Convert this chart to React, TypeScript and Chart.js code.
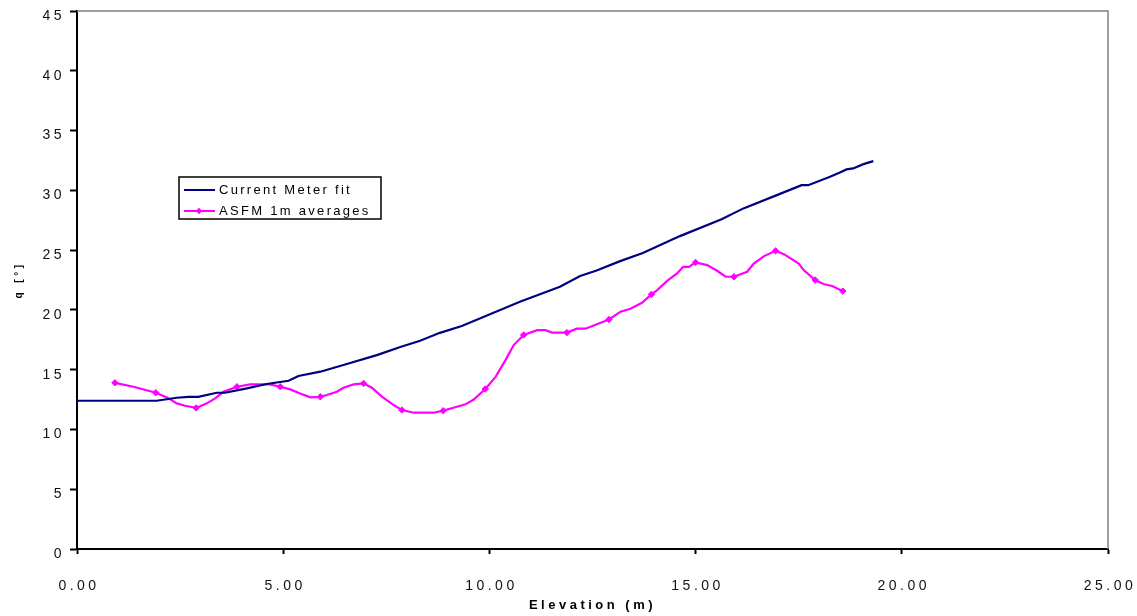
import React, { useEffect, useRef } from 'react';
import { Chart, registerables } from 'chart.js';

Chart.register(...registerables);

// Current Meter fit (elevation m, angle deg)
const cmX = [0, 1.93, 2.42, 2.7, 2.94, 3.39, 3.59, 4.12, 4.6, 5.13, 5.37, 5.9, 6.46, 7.27, 7.84, 8.32, 8.8, 9.33, 10.74, 11.71, 12.2, 12.6, 13.17, 13.72, 14.62, 15.63, 16.16, 16.97, 17.57, 17.73, 18.26, 18.5, 18.66, 18.82, 19.07, 19.31];
const cmY = [12.4, 12.4, 12.65, 12.73, 12.73, 13.07, 13.07, 13.43, 13.8, 14.07, 14.47, 14.83, 15.39, 16.22, 16.9, 17.42, 18.08, 18.65, 20.68, 21.93, 22.83, 23.3, 24.08, 24.75, 26.17, 27.59, 28.49, 29.6, 30.43, 30.43, 31.13, 31.5, 31.75, 31.83, 32.19, 32.44];

// ASFM profile (dense)
const asfmX = [0.92, 1.37, 1.91, 2.18, 2.42, 2.62, 2.89, 3.15, 3.35, 3.55, 3.88, 4.2, 4.68, 4.93, 5.17, 5.41, 5.66, 5.9, 6.06, 6.3, 6.46, 6.71, 6.95, 7.15, 7.4, 7.68, 7.88, 8.16, 8.65, 8.88, 9.13, 9.42, 9.62, 9.9, 10.15, 10.39, 10.59, 10.83, 11.16, 11.36, 11.52, 11.88, 12.12, 12.33, 12.9, 13.18, 13.42, 13.7, 13.93, 14.07, 14.31, 14.55, 14.7, 14.84, 15.0, 15.28, 15.52, 15.73, 15.93, 16.25, 16.41, 16.66, 16.94, 17.14, 17.5, 17.62, 17.9, 18.1, 18.31, 18.57];
const asfmY = [13.9, 13.57, 13.07, 12.68, 12.18, 11.98, 11.8, 12.18, 12.6, 13.15, 13.57, 13.77, 13.77, 13.57, 13.35, 13.0, 12.68, 12.73, 12.88, 13.15, 13.49, 13.77, 13.85, 13.49, 12.73, 12.04, 11.62, 11.4, 11.4, 11.57, 11.82, 12.1, 12.5, 13.38, 14.4, 15.8, 17.06, 17.9, 18.3, 18.3, 18.1, 18.1, 18.43, 18.43, 19.2, 19.85, 20.1, 20.6, 21.3, 21.65, 22.43, 23.05, 23.6, 23.6, 23.97, 23.75, 23.27, 22.77, 22.77, 23.19, 23.88, 24.5, 24.94, 24.66, 23.88, 23.33, 22.5, 22.16, 22.0, 21.57];

// positions of the 1 m averages (marked points)
const asfmAvgX = [0.92, 1.91, 2.89, 3.88, 4.93, 5.9, 6.95, 7.88, 8.88, 9.9, 10.83, 11.88, 12.9, 13.93, 15.0, 15.93, 16.94, 17.9, 18.57];

const seriesLabels = ['Current Meter fit', 'ASFM 1m averages'];
const xTitle = 'Elevation (m)';
const yTitle = 'q [°]';

const FONT = "'Liberation Sans', Arial, Helvetica, sans-serif";
const NAVY = '#000080';
const MAGENTA = '#FF00FF';

const spacingPlugin = {
  id: 'letterSpacing',
  beforeDraw(chart: any) {
    chart.ctx.letterSpacing = '3.5px';
  },
};

const framePlugin = {
  id: 'frame',
  beforeDatasetsDraw(chart: any) {
    const { ctx, chartArea } = chart;
    const { left, right, top, bottom } = chartArea;
    ctx.save();
    ctx.strokeStyle = '#808080';
    ctx.lineWidth = 1.5;
    ctx.beginPath();
    ctx.moveTo(left, top);
    ctx.lineTo(right, top);
    ctx.lineTo(right, bottom);
    ctx.stroke();
    ctx.restore();
  },
};

const boxLegendPlugin = {
  id: 'boxLegend',
  afterDraw(chart: any) {
    const ctx = chart.ctx;
    const bx = 179;
    const by = 177;
    const bw = 202;
    const bh = 42;
    ctx.save();
    ctx.letterSpacing = '2.3px';
    ctx.fillStyle = '#ffffff';
    ctx.fillRect(bx, by, bw, bh);
    ctx.strokeStyle = '#000000';
    ctx.lineWidth = 1.5;
    ctx.strokeRect(bx, by, bw, bh);
    ctx.font = `13px ${FONT}`;
    ctx.textBaseline = 'middle';
    ctx.textAlign = 'left';
    chart.data.datasets.forEach((ds: any, i: number) => {
      const y = by + 13 + i * 21;
      ctx.strokeStyle = ds.borderColor;
      ctx.lineWidth = 2;
      ctx.beginPath();
      ctx.moveTo(bx + 5, y);
      ctx.lineTo(bx + 36, y);
      ctx.stroke();
      if (i === 1) {
        ctx.fillStyle = ds.borderColor;
        const cx = bx + 20;
        const r = 3.2;
        ctx.beginPath();
        ctx.moveTo(cx, y - r);
        ctx.lineTo(cx + r, y);
        ctx.lineTo(cx, y + r);
        ctx.lineTo(cx - r, y);
        ctx.closePath();
        ctx.fill();
      }
      ctx.fillStyle = '#000000';
      ctx.fillText(ds.label, bx + 40, y + 0.5);
    });
    ctx.restore();
  },
};

export default function App() {
  const canvasRef = useRef<HTMLCanvasElement | null>(null);

  useEffect(() => {
    const canvas = canvasRef.current;
    if (!canvas) return;
    const chart = new Chart(canvas, {
      type: 'line',
      data: {
        datasets: [
          {
            label: seriesLabels[0],
            data: cmX.map((x, i) => ({ x, y: cmY[i] })),
            borderColor: NAVY,
            backgroundColor: NAVY,
            borderWidth: 2.2,
            pointRadius: 0,
            tension: 0,
            fill: false,
          },
          {
            label: seriesLabels[1],
            data: asfmX.map((x, i) => ({ x, y: asfmY[i] })),
            borderColor: MAGENTA,
            backgroundColor: MAGENTA,
            borderWidth: 2.2,
            pointStyle: 'rectRot',
            pointRadius: (ctx: any) => {
              const p = ctx.raw;
              return p && asfmAvgX.includes(p.x) ? 3.2 : 0;
            },
            pointBackgroundColor: MAGENTA,
            pointBorderColor: MAGENTA,
            pointBorderWidth: 1,
            tension: 0,
            fill: false,
          },
        ],
      },
      options: {
        animation: false,
        responsive: false,
        maintainAspectRatio: false,
        layout: { padding: { top: 11, right: 29, left: 0, bottom: 0 } },
        plugins: {
          legend: { display: false },
          tooltip: { enabled: false },
        },
        scales: {
          x: {
            type: 'linear',
            min: 0,
            max: 25,
            afterFit: (s: any) => {
              s.height = 67;
              s.paddingLeft = 0;
              s.paddingRight = 0;
            },
            ticks: {
              stepSize: 5,
              callback: (v: any) => Number(v).toFixed(2),
              color: '#111111',
              font: { family: FONT, size: 14 },
              padding: 24,
              labelOffset: 2,
              maxRotation: 0,
              autoSkip: false,
            },
            grid: {
              display: true,
              drawOnChartArea: false,
              drawTicks: true,
              tickLength: 5,
              tickWidth: 2,
              tickColor: '#000000',
            },
            border: { display: true, color: '#000000', width: 2 },
            title: {
              display: true,
              text: xTitle,
              color: '#000000',
              font: { family: FONT, size: 13, weight: 'bold' },
              padding: { top: 0, bottom: 3 },
            },
          },
          y: {
            type: 'linear',
            min: 0,
            max: 45,
            afterFit: (s: any) => {
              s.width = 77;
              s.paddingTop = 0;
              s.paddingBottom = 0;
            },
            ticks: {
              stepSize: 5,
              color: '#111111',
              font: { family: FONT, size: 14 },
              padding: 5,
              labelOffset: 5,
            },
            grid: {
              display: true,
              drawOnChartArea: false,
              drawTicks: true,
              tickLength: 7,
              tickWidth: 2,
              tickColor: '#000000',
            },
            border: { display: true, color: '#000000', width: 2 },
            title: {
              display: true,
              text: yTitle,
              color: '#000000',
              font: { family: FONT, size: 10, weight: 'bold' },
              padding: { top: 13, bottom: 0 },
            },
          },
        },
      } as any,
      plugins: [spacingPlugin, framePlugin, boxLegendPlugin],
    });
    return () => {
      chart.destroy();
    };
  }, []);

  return (
    <div style={{ position: 'absolute', left: 0, top: 0, width: 1137, height: 616, background: '#fff' }}>
      <canvas ref={canvasRef} width={1137} height={616} style={{ display: 'block' }} />
    </div>
  );
}
